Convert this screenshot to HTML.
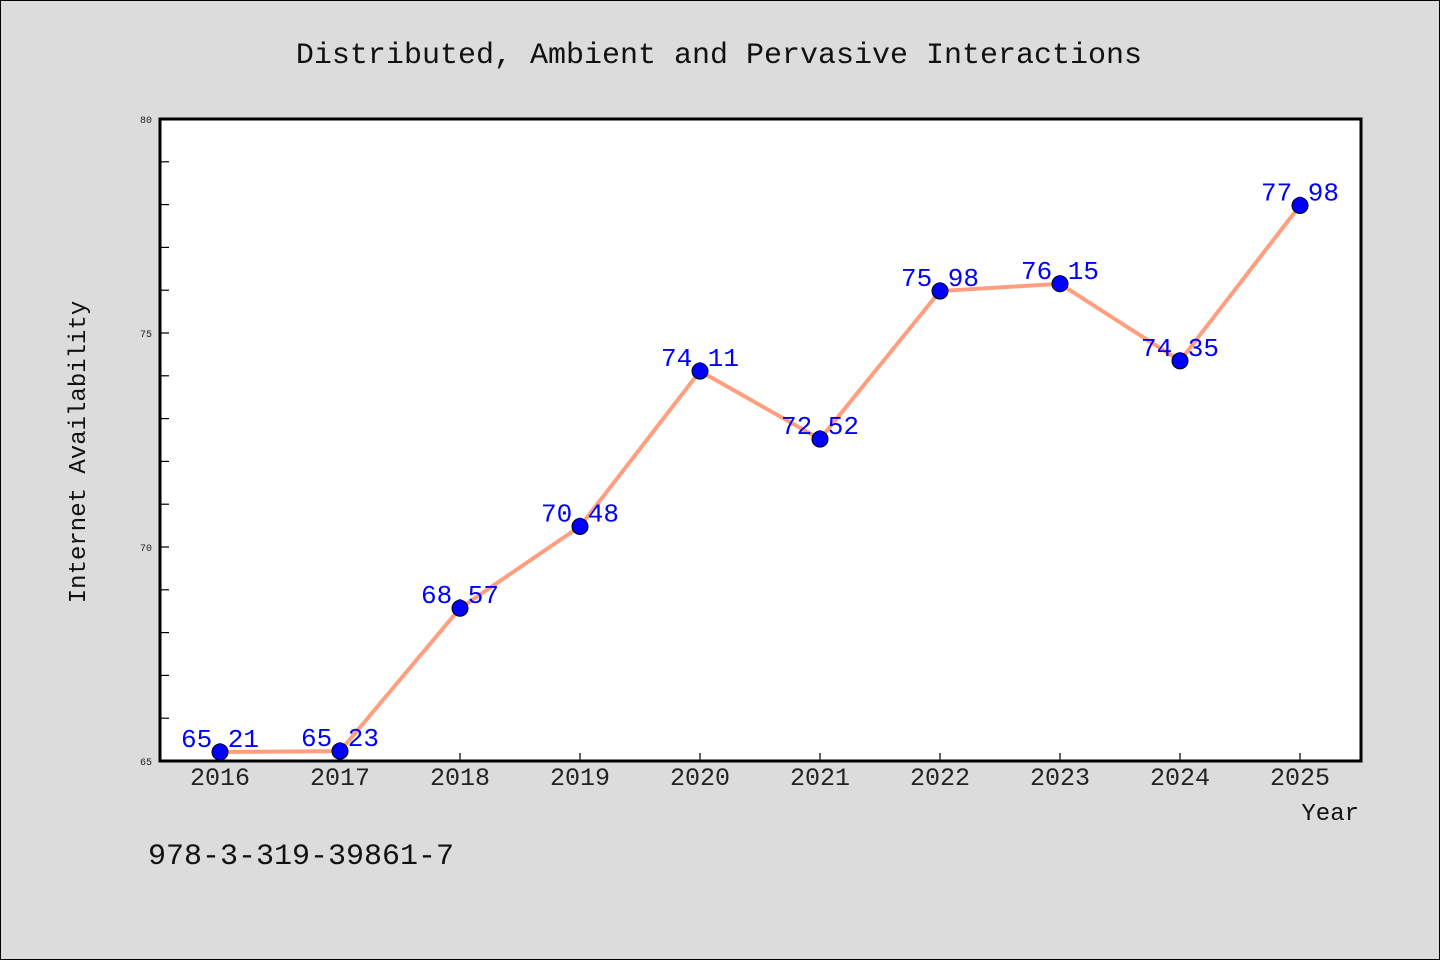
<!DOCTYPE html>
<html><head><meta charset="utf-8"><style>
body{margin:0;background:#dcdcdc;}
svg{display:block;font-family:"Liberation Mono","WenQuanYi Zen Hei",monospace;}
</style></head><body>
<svg id="chart" width="1440" height="960">
<rect x="0.5" y="0.5" width="1439" height="959" fill="#dcdcdc" stroke="#000"/>
<text x="719" y="63" text-anchor="middle" font-size="30" fill="#111">Distributed, Ambient and Pervasive Interactions</text>
<rect x="160" y="119" width="1201" height="642" fill="#fff"/>
<g id="ticks"></g>
<g id="series"></g>
<rect x="160" y="119" width="1201" height="642" fill="none" stroke="#000" stroke-width="3"/>
<text transform="translate(85,452) rotate(-90)" text-anchor="middle" font-size="24" fill="#111">Internet Availability</text>
<text x="1359" y="820" text-anchor="end" font-size="24" fill="#111">Year</text>
<text x="148" y="864" font-size="30" fill="#111">978-3-319-39861-7</text>
</svg>
<script>
const years=["2016","2017","2018","2019","2020","2021","2022","2023","2024","2025"];
const values=[65.21,65.23,68.57,70.48,74.11,72.52,75.98,76.15,74.35,77.98];
const yTickLabels=[65,70,75,80];
const NS="http://www.w3.org/2000/svg";
const x0=220,dx=120,yTop=119,yBot=761,yMin=65,yMax=80;
const xs=i=>x0+i*dx;
const ys=v=>yBot-(v-yMin)/(yMax-yMin)*(yBot-yTop);
function mk(t,a,p){const e=document.createElementNS(NS,t);for(const k in a)e.setAttribute(k,a[k]);p.appendChild(e);return e;}
const tk=document.getElementById('ticks'),sr=document.getElementById('series');
for(let v=yMin;v<=yMax;v++){
 const l=mk('line',{x1:160,x2:169,y1:ys(v),y2:ys(v),stroke:'#000','stroke-width':1.2},tk);
 
 
}
yTickLabels.forEach(v=>{
 const t=mk('text',{x:152,y:ys(v)+4,'text-anchor':'end','font-size':10,fill:'#222'},tk);t.textContent=v;
 
 
});
years.forEach((y,i)=>{
 const l=mk('line',{x1:xs(i),x2:xs(i),y1:yBot,y2:yBot-8,stroke:'#000','stroke-width':1.2},tk);
 
 
 const t=mk('text',{x:xs(i),y:785,'text-anchor':'middle','font-size':25,fill:'#222'},tk);t.textContent=y;
 
 
});
const pl=mk('polyline',{points:values.map((v,i)=>xs(i)+','+ys(v)).join(' '),fill:'none',stroke:'#ff9f7f','stroke-width':4},sr);


values.forEach((v,i)=>{
 const c=mk('circle',{cx:xs(i),cy:ys(v),r:8,fill:'#0000ff',stroke:'#000','stroke-width':1},sr);
 
 
 const t=mk('text',{x:xs(i),y:ys(v)-5,'text-anchor':'middle','font-size':26,fill:'#0000ff'},sr);t.textContent=v.toFixed(2);
 
 
});
</script>
</body></html>
